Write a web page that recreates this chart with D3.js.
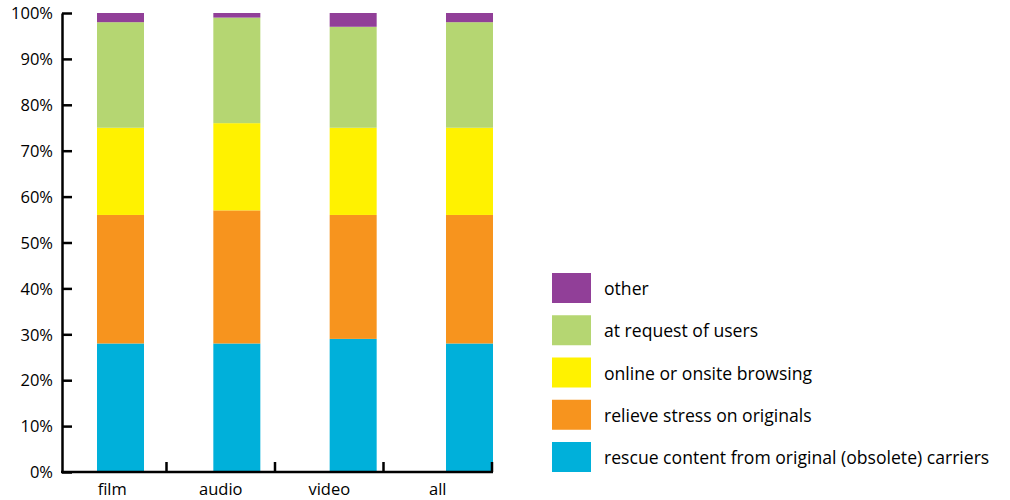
<!DOCTYPE html>
<html>
<head>
<meta charset="utf-8">
<script src="https://cdn.jsdelivr.net/npm/d3@7"></script>
<style>
  html, body { margin: 0; padding: 0; background: #fff; }
  svg text { font-family: "Open Sans", "Noto Sans", sans-serif; fill: #000; }
</style>
</head>
<body>
<svg id="chart" width="1010" height="500"></svg>
<script>
// Collection types
const categories = ["film", "audio", "video", "all"];

// Share of reasons for digitisation (%), stacked bottom to top
const seriesNames = [
  "rescue content from original (obsolete) carriers",
  "relieve stress on originals",
  "online or onsite browsing",
  "at request of users",
  "other"
];
const rescueValues  = [28, 28, 29, 28];
const relieveValues = [28, 29, 27, 28];
const onlineValues  = [19, 19, 19, 19];
const requestValues = [23, 23, 22, 23];
const otherValues   = [2, 1, 3, 2];
const seriesColors  = ["#00b0da", "#f7941e", "#fff200", "#b5d672", "#913f98"];
const yTickValues   = [0, 10, 20, 30, 40, 50, 60, 70, 80, 90, 100];

const seriesValues = [rescueValues, relieveValues, onlineValues, requestValues, otherValues];
const rows = categories.map((c, i) => {
  const r = { category: c };
  seriesNames.forEach((s, k) => { r[s] = seriesValues[k][i]; });
  return r;
});

const svg = d3.select("#chart");

const y = d3.scaleLinear().domain([0, 100]).range([472, 13]);
// Category bands along the axis line (labels centred, ticks at band edges)
const xAxisScale = d3.scaleBand().domain(categories).range([58, 492]);
// Bars sit in their own band layout
const xBars = d3.scaleBand().domain(categories).range([97, 493]).paddingInner(0.596).paddingOuter(0);
const color = d3.scaleOrdinal().domain(seriesNames).range(seriesColors);

const stacked = d3.stack().keys(seriesNames)(rows);

svg.append("g")
  .selectAll("g")
  .data(stacked)
  .join("g")
  .attr("fill", d => color(d.key))
  .selectAll("rect")
  .data(d => d)
  .join("rect")
  .attr("x", d => xBars(d.data.category))
  .attr("width", xBars.bandwidth())
  .attr("y", d => y(d[1]))
  .attr("height", d => y(d[0]) - y(d[1]));

// Y axis: ticks point inward
const yAxis = svg.append("g").attr("transform", "translate(62,0)")
  .call(d3.axisRight(y).tickValues(yTickValues).tickFormat(d => d + "%").tickSize(10).tickSizeOuter(0));
yAxis.select(".domain").attr("stroke", "#000").attr("stroke-width", 2.5);
yAxis.selectAll(".tick line").attr("stroke", "#000").attr("stroke-width", 2.5);
yAxis.selectAll(".tick text")
  .attr("x", -9).attr("text-anchor", "end").attr("dy", "0.35em")
  .style("font-size", "16.5px");

// X axis: labels centred in bands, upward ticks at band edges
const xAxis = svg.append("g").attr("transform", `translate(0,${y(0)})`);
xAxis.append("line")
  .attr("x1", 61).attr("x2", xAxisScale.range()[1] + 1)
  .attr("stroke", "#000").attr("stroke-width", 2.5);
xAxis.selectAll("line.edge")
  .data(categories)
  .join("line")
  .attr("class", "edge")
  .attr("x1", d => xAxisScale(d) + xAxisScale.bandwidth())
  .attr("x2", d => xAxisScale(d) + xAxisScale.bandwidth())
  .attr("y1", 0).attr("y2", -10)
  .attr("stroke", "#000").attr("stroke-width", 2.5);
xAxis.selectAll("text")
  .data(categories)
  .join("text")
  .attr("x", d => xAxisScale(d) + xAxisScale.bandwidth() / 2)
  .attr("y", 23)
  .attr("text-anchor", "middle")
  .style("font-size", "16.5px")
  .text(d => d);

// Legend, top entry is the top of the stack
const legendOrder = seriesNames.slice().reverse();
const ly = d3.scalePoint().domain(legendOrder).range([273, 442]);
const legend = svg.append("g").selectAll("g")
  .data(legendOrder)
  .join("g")
  .attr("transform", d => `translate(552,${ly(d)})`);
legend.append("rect")
  .attr("width", 39).attr("height", 30)
  .attr("fill", d => color(d));
legend.append("text")
  .attr("x", 52).attr("y", 16).attr("dy", "0.35em")
  .style("font-size", "17.6px")
  .text(d => d);
</script>
</body>
</html>
